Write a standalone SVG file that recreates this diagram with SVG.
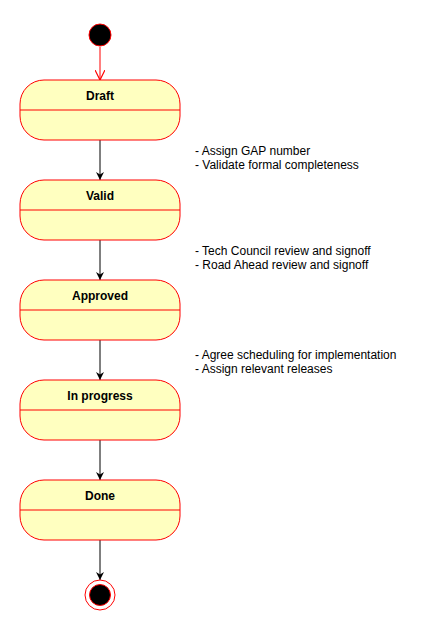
<svg xmlns="http://www.w3.org/2000/svg" width="431" height="631" viewBox="0 0 431 631">
<style>
.st{fill:#FFFFC0;stroke:#FF0000;stroke-width:1}
.dv{stroke:#FF0000;stroke-width:1}
.ttl{font-family:"Liberation Sans",Arial,sans-serif;font-size:12px;font-weight:bold;fill:#000;text-anchor:middle}
.note{font-family:"Liberation Sans",Arial,sans-serif;font-size:12px;fill:#000}
.cn{stroke:#000;stroke-width:1;fill:none}
</style>
<defs>
<marker id="blk" viewBox="0 0 10 10" refX="10" refY="5" markerWidth="8" markerHeight="8" markerUnits="userSpaceOnUse" orient="auto">
<path d="M0,0 L10,5 L0,10 L3,5 Z" fill="#000"/>
</marker>
<marker id="open" viewBox="0 0 10 10" refX="10" refY="5" markerWidth="10" markerHeight="10" markerUnits="userSpaceOnUse" orient="auto">
<path d="M0,0 L10,5 L0,10" fill="none" stroke="#FF0000" stroke-width="1.2"/>
</marker>
</defs>
<rect width="431" height="631" fill="#fff"/>
<g id="connectors">
<line x1="100" y1="47" x2="100" y2="80" stroke="#FF0000" stroke-width="1" marker-end="url(#open)"/>
<line class="cn" x1="100" y1="140" x2="100" y2="180" marker-end="url(#blk)"/>
<line class="cn" x1="100" y1="240" x2="100" y2="280" marker-end="url(#blk)"/>
<line class="cn" x1="100" y1="340" x2="100" y2="380" marker-end="url(#blk)"/>
<line class="cn" x1="100" y1="440" x2="100" y2="480" marker-end="url(#blk)"/>
<line class="cn" x1="100" y1="540" x2="100" y2="580" marker-end="url(#blk)"/>
</g>
<g id="start">
<circle cx="100" cy="35" r="11" fill="#000" stroke="#FF0000" stroke-width="1"/>
</g>
<g id="draft">
<rect class="st" x="20" y="80" width="160" height="60" rx="24" ry="24"/>
<line class="dv" x1="20" y1="110" x2="180" y2="110"/>
<text class="ttl" x="100" y="100">Draft</text>
</g>
<g id="valid">
<rect class="st" x="20" y="180" width="160" height="60" rx="24" ry="24"/>
<line class="dv" x1="20" y1="210" x2="180" y2="210"/>
<text class="ttl" x="100" y="200">Valid</text>
</g>
<g id="approved">
<rect class="st" x="20" y="280" width="160" height="60" rx="24" ry="24"/>
<line class="dv" x1="20" y1="310" x2="180" y2="310"/>
<text class="ttl" x="100" y="300">Approved</text>
</g>
<g id="inprogress">
<rect class="st" x="20" y="380" width="160" height="60" rx="24" ry="24"/>
<line class="dv" x1="20" y1="410" x2="180" y2="410"/>
<text class="ttl" x="100" y="400">In progress</text>
</g>
<g id="done">
<rect class="st" x="20" y="480" width="160" height="60" rx="24" ry="24"/>
<line class="dv" x1="20" y1="510" x2="180" y2="510"/>
<text class="ttl" x="100" y="500">Done</text>
</g>
<g id="end">
<circle cx="100" cy="595" r="15" fill="#fff" stroke="#FF0000" stroke-width="1"/>
<circle cx="100" cy="595" r="10.5" fill="#000" stroke="#FF0000" stroke-width="1"/>
</g>
<g id="note1">
<text class="note" x="195" y="155">- Assign GAP number</text>
<text class="note" x="195" y="169">- Validate formal completeness</text>
</g>
<g id="note2">
<text class="note" x="195" y="255">- Tech Council review and signoff</text>
<text class="note" x="195" y="269">- Road Ahead review and signoff</text>
</g>
<g id="note3">
<text class="note" x="195" y="359">- Agree scheduling for implementation</text>
<text class="note" x="195" y="373">- Assign relevant releases</text>
</g>
</svg>
